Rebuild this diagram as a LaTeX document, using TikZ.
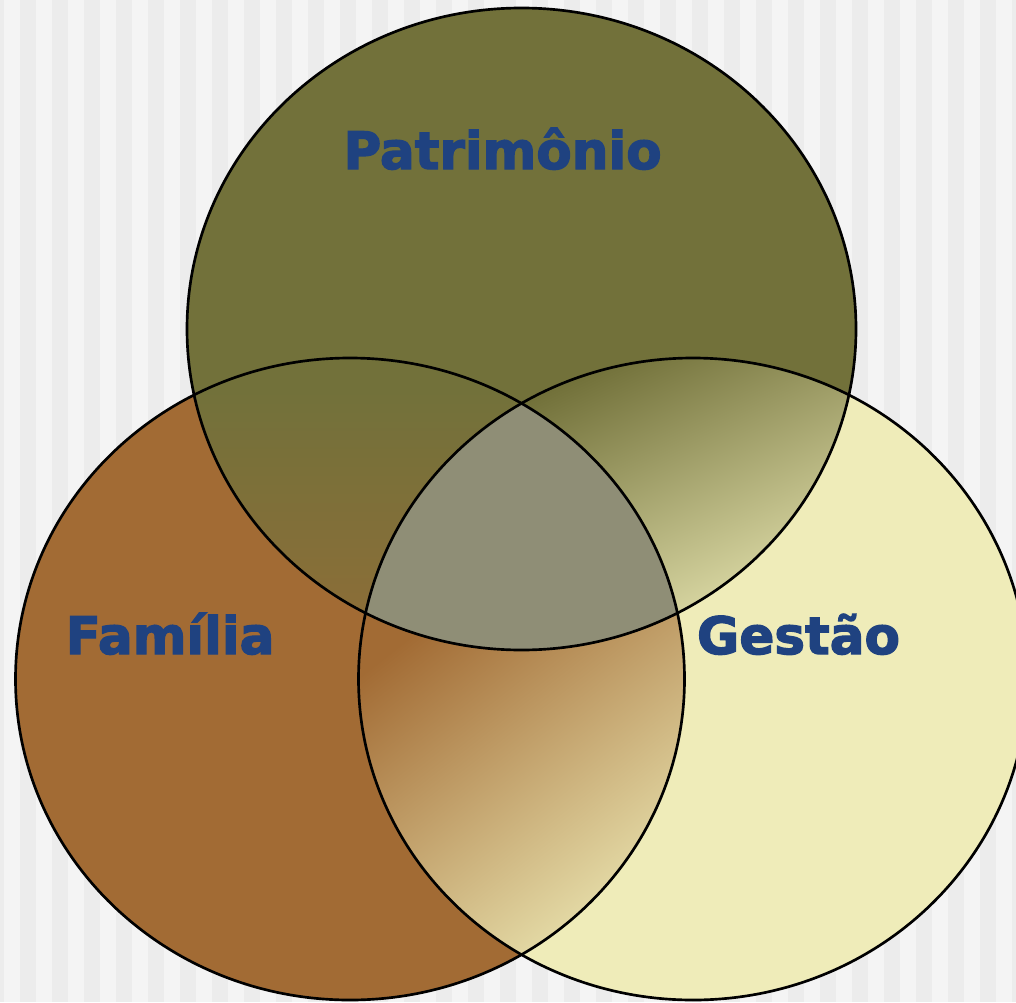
\documentclass[tikz,border=0pt]{standalone}
\usepackage{fontspec}
\setmainfont{DejaVu Sans}[BoldFeatures={FakeBold=2.5}]

\definecolor{stripeDark}{RGB}{236,236,236}
\definecolor{stripeLight}{RGB}{244,244,244}
\definecolor{patrFill}{RGB}{114,113,58}
\definecolor{famFill}{RGB}{162,107,52}
\definecolor{gestFill}{RGB}{239,236,185}
\definecolor{coreFill}{RGB}{143,142,118}
\definecolor{patrFamLow}{RGB}{139,110,56}
\definecolor{patrGestLow}{RGB}{228,226,174}
\definecolor{famGestLow}{RGB}{236,232,180}
\definecolor{lblBlue}{RGB}{31,66,128}

\tikzset{every picture/.style={line width=0.75pt}}
\tikzset{
  rad/.style={x radius=334.5, y radius=321},
  rim/.style={draw=black, line width=2pt},
  lbl/.style={anchor=base, inner sep=0pt, text=lblBlue,
    font=\fontsize{38.7}{46}\selectfont\bfseries}
}

\begin{document}
\begin{tikzpicture}[x=0.75pt,y=0.75pt,yscale=-1,xscale=1]
\useasboundingbox (0,0) rectangle (1016,1002);
\clip (0,0) rectangle (1016,1002);

%Background stripes
\fill[stripeDark] (0,0) rectangle (1016,1002);
\foreach \k in {0,...,31}
  \fill[stripeLight] (4+32*\k,0) rectangle (20+32*\k,1002);

\coordinate (patr) at (521.5,329);
\coordinate (fam) at (350,679);
\coordinate (gest) at (693,679);

%Shape: Ellipse fills
\fill[famFill] (fam) ellipse [rad];
\fill[gestFill] (gest) ellipse [rad];
\fill[patrFill] (patr) ellipse [rad];

%Overlap: Patrimonio / Familia
\begin{scope}
\clip (patr) ellipse [rad];
\clip (fam) ellipse [rad];
\shade[top color=patrFill, bottom color=patrFamLow] (180,390) rectangle (530,615);
\end{scope}
%Overlap: Patrimonio / Gestao
\begin{scope}
\clip (patr) ellipse [rad];
\clip (gest) ellipse [rad];
\shade[top color=patrFill, bottom color=patrGestLow, shading angle=25] (520,352) rectangle (860,625);
\end{scope}
%Overlap: Familia / Gestao
\begin{scope}
\clip (fam) ellipse [rad];
\clip (gest) ellipse [rad];
\shade[top color=famFill, bottom color=famGestLow, shading angle=38] (355,585) rectangle (700,975);
\end{scope}
%Overlap: all three
\begin{scope}
\clip (patr) ellipse [rad];
\clip (fam) ellipse [rad];
\fill[coreFill] (gest) ellipse [rad];
\end{scope}

%Shape: Ellipse outlines
\draw[rim] (fam) ellipse [rad];
\draw[rim] (gest) ellipse [rad];
\draw[rim] (patr) ellipse [rad];

% Text Node
\node[lbl] (patrimonio) at (502.5,169) {Patrimônio};
% Text Node
\node[lbl] (familia) at (170,654) {Família};
% Text Node
\node[lbl] (gestao) at (798.5,654) {Gestão};

\end{tikzpicture}
\end{document}
